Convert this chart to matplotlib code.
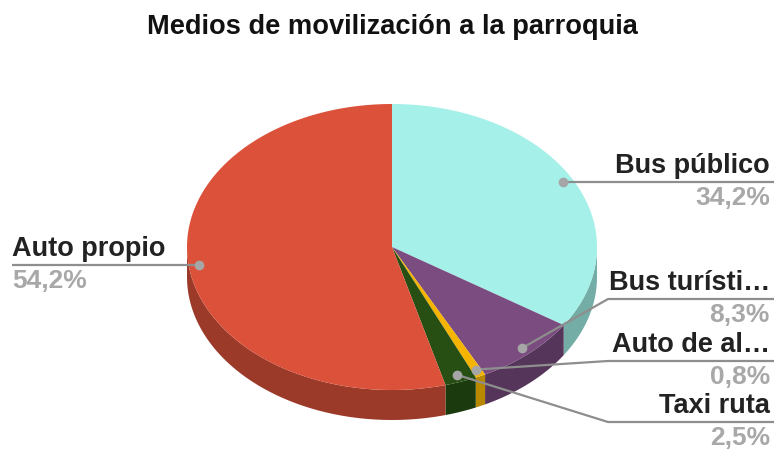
import numpy as np
import matplotlib
matplotlib.use("Agg")
import matplotlib.pyplot as plt
from matplotlib.patches import Polygon

plt.rcParams['font.family'] = ['Liberation Sans', 'DejaVu Sans']

# data
labels = ['Bus público', 'Bus turísti…', 'Auto de al…', 'Taxi ruta', 'Auto propio']
values = [34.2, 8.3, 0.8, 2.5, 54.2]
pct_text = ['34,2%', '8,3%', '0,8%', '2,5%', '54,2%']
top_colors = ['#a5f0e8', '#7a4c80', '#f4b400', '#274e13', '#dc513a']
side_colors = ['#74aca6', '#55355a', '#b88800', '#1b3a0d', '#9c3a2a']

title = 'Medios de movilización a la parroquia'

# geometry (pixel space)
W, H = 774, 450
cx, cy, rx, ry, depth = 392, 247, 205, 143, 30


def pt(theta, r=1.0, dy=0):
    t = np.radians(theta)
    return cx + rx * r * np.sin(t), cy - ry * r * np.cos(t) + dy


fig = plt.figure(figsize=(W / 100, H / 100), dpi=100)
ax = fig.add_axes([0, 0, 1, 1])
ax.set_xlim(0, W)
ax.set_ylim(H, 0)
ax.axis('off')

bounds = np.concatenate([[0], np.cumsum(values) / np.sum(values) * 360])

# side faces (front half only: 90..270 deg)
for i in range(len(values)):
    a, b = max(bounds[i], 90), min(bounds[i + 1], 270)
    if b <= a:
        continue
    th = np.linspace(a, b, 80)
    xs, ys = pt(th)
    xb, yb = pt(th[::-1], dy=depth)
    poly = np.column_stack([np.concatenate([xs, xb]), np.concatenate([ys, yb])])
    ax.add_patch(Polygon(poly, closed=True, fc=side_colors[i], ec='none'))

# top faces
for i in range(len(values)):
    th = np.linspace(bounds[i], bounds[i + 1], 200)
    xs, ys = pt(th)
    poly = np.column_stack([np.concatenate([[cx], xs]), np.concatenate([[cy], ys])])
    ax.add_patch(Polygon(poly, closed=True, fc=top_colors[i], ec='none'))

# leader lines and labels
lc = '#8e8e8e'
# (elbow x, label line y, side)
leaders = [(None, None, 'r'), (608, 299, 'r'), (608, 361, 'r'), (608, 422, 'r'), (None, None, 'l')]
for i in range(len(values)):
    mid = (bounds[i] + bounds[i + 1]) / 2
    dx, dy = pt(mid, r=0.95)
    ex, ly, side = leaders[i]
    if ly is None:
        ly = dy
    if side == 'r':
        xs = [dx, ex if ex else dx, W]
        ys = [dy, ly, ly]
        tx, ha = W - 4, 'right'
    else:
        xs = [dx, 12]
        ys = [dy, ly]
        tx, ha = 12, 'left'
    ax.plot(xs, ys, color=lc, lw=1.6, solid_capstyle='butt', zorder=3)
    ax.plot(dx, dy, 'o', ms=7, color='#a6a6a6', mec='none', zorder=4)
    ax.text(tx, ly - 9, labels[i], ha=ha, va='baseline', fontsize=19.5, fontweight='bold', color='#222222')
    ax.text(tx, ly + 23, pct_text[i], ha=ha, va='baseline', fontsize=19, fontweight='bold', color='#a8a8a8')

ax.text(392, 34, title, ha='center', va='baseline', fontsize=19.6, fontweight='bold', color='#111111')

fig.savefig('out.png', dpi=100)
